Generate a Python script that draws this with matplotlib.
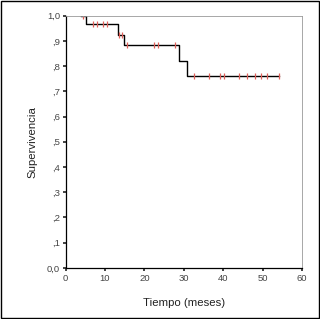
import matplotlib
matplotlib.use("Agg")
import matplotlib.pyplot as plt
from matplotlib.patches import Rectangle

plt.rcParams['font.family'] = ['Liberation Sans', 'DejaVu Sans']

# Kaplan-Meier steps (time of step, survival after step)
start_time = 4.0
step_times = [5.3, 13.2, 14.8, 28.8, 30.9]
step_surv = [0.967, 0.925, 0.883, 0.820, 0.759]
end_time = 54.1

# censored observations (time, survival)
cens_t = [4.3, 7.0, 8.0, 9.4, 10.6, 13.6, 14.3, 15.7, 22.4, 23.4, 27.7,
          32.7, 36.4, 39.1, 40.1, 44.1, 46.0, 48.1, 49.6, 51.0, 54.1]
cens_s = [1.0, 0.967, 0.967, 0.967, 0.967, 0.925, 0.925, 0.883, 0.883, 0.883, 0.883,
          0.759, 0.759, 0.759, 0.759, 0.759, 0.759, 0.759, 0.759, 0.759, 0.759]

yticks = [0.0, 0.1, 0.2, 0.3, 0.4, 0.5, 0.6, 0.7, 0.8, 0.9, 1.0]
ylabels = ['0,0', ',1', ',2', ',3', ',4', ',5', ',6', ',7', ',8', ',9', '1,0']
xticks = [0, 10, 20, 30, 40, 50, 60]

fig = plt.figure(figsize=(3.2, 3.19), dpi=100)
ax = fig.add_axes([0.205, 0.160, 0.739, 0.791])

xs = [start_time] + step_times + [end_time]
ys = [1.0] + step_surv + [step_surv[-1]]
ax.step(xs, ys, where='post', color='black', linewidth=1.0)
ax.plot(cens_t, cens_s, linestyle='none', marker='|', markersize=4,
        markeredgewidth=0.9, color='#e0605a')

ax.set_xlim(0, 60)
ax.set_ylim(0, 1.0)
ax.set_xticks(xticks)
ax.set_yticks(yticks)
ax.set_yticklabels(ylabels)
ax.tick_params(direction='out', length=2.5, width=1.2, labelsize=6.8, pad=1.5,
               colors='#222222', labelcolor='#444444')
for s in ['top', 'right']:
    ax.spines[s].set_color('#999999')
    ax.spines[s].set_linewidth(0.6)
for s in ['left', 'bottom']:
    ax.spines[s].set_linewidth(0.9)
ax.set_ylabel('Supervivencia', fontsize=8.2, labelpad=7, color='#222222')
ax.set_xlabel('Tiempo (meses)', fontsize=8.2, labelpad=11, color='#222222')

fig.patches.append(Rectangle((0.002, 0.003), 0.994, 0.994, transform=fig.transFigure,
                             fill=False, edgecolor='black', linewidth=1.0))

fig.savefig('out.png', dpi=100)
